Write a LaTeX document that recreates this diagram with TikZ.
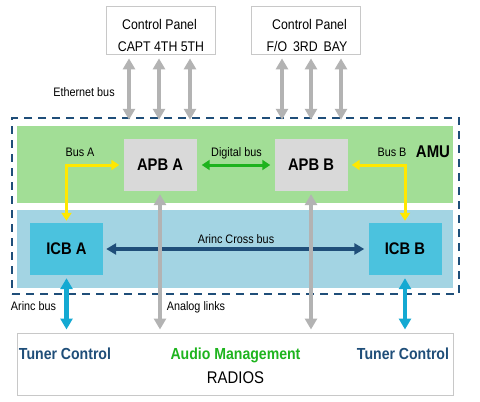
\documentclass[tikz,border=0pt]{standalone}
\usepackage{fontspec}
\setmainfont{Liberation Sans}[FakeStretch=0.88]
\usetikzlibrary{arrows.meta}
\definecolor{dashblue}{HTML}{1F4E79}
\definecolor{amugreen}{HTML}{A2DE96}
\definecolor{icbbg}{HTML}{A3D4E3}
\definecolor{icbbox}{HTML}{4BC2DE}
\definecolor{apbgray}{HTML}{D9D9D9}
\definecolor{arrgray}{HTML}{B3B3B3}
\definecolor{panelgray}{HTML}{C8C8C8}
\definecolor{busgreen}{HTML}{1DB31D}
\definecolor{busyellow}{HTML}{FFE800}
\definecolor{arinccyan}{HTML}{14A9D2}
\definecolor{textgreen}{HTML}{1EB41E}
\begin{document}
\begin{tikzpicture}[x=1pt,y=-1pt,
  lbl/.style={font=\fontsize{12.3}{14}\selectfont, inner sep=0, anchor=base},
  cpt/.style={font=\fontsize{14}{16}\selectfont, inner sep=0, anchor=base},
  unitbox/.style={font=\fontsize{16.8}{20}\selectfont\bfseries, minimum width=73pt, minimum height=52pt, inner sep=0},
  panel/.style={draw=panelgray, line width=0.8pt, fill=white, minimum width=109pt, minimum height=48pt},
  garrow/.style={draw=arrgray, line width=4.5pt, {Triangle[width=12pt,length=11pt]}-{Triangle[width=12pt,length=11pt]}},
  carrow/.style={draw=arinccyan, line width=4.5pt, {Triangle[width=12pt,length=11pt]}-{Triangle[width=12pt,length=11pt]}},
  gbus/.style={draw=busgreen, line width=3pt, {Triangle[width=10pt,length=8pt]}-{Triangle[width=10pt,length=8pt]}},
  ybus/.style={draw=busyellow, line width=3pt, {Triangle[width=10pt,length=8pt]}-{Triangle[width=10pt,length=8pt]}},
  xbus/.style={draw=dashblue, line width=3.5pt, {Triangle[width=11pt,length=10pt]}-{Triangle[width=11pt,length=10pt]}},
  bigtext/.style={font=\fontsize{16}{18}\selectfont\bfseries, inner sep=0, anchor=base}
]
\useasboundingbox (0,0) rectangle (480,402);
\fill[white] (0,0) rectangle (480,402);

% AMU frame and zones
\node[draw=dashblue, line width=2.5pt, dash pattern=on 8pt off 6pt, minimum width=447pt, minimum height=176pt, inner sep=0] (amu) at (235.5,206) {};
\node[fill=amugreen, minimum width=436pt, minimum height=77pt, inner sep=0] (grn) at (235,164.5) {};
\node[fill=icbbg, minimum width=436pt, minimum height=78pt, inner sep=0] (blu) at (235,249) {};

% control panels
\node[panel] (cp1) at (160.5,30) {};
\node[panel] (cp2) at (305.5,30) {};
\node[cpt] (cp1t) at (159.5,29.5) {Control Panel};
\node[cpt] (cp1b) at (161,51) {CAPT 4TH 5TH};
\node[cpt] (cp2t) at (309.5,29.5) {Control Panel};
\node[cpt] (cp2b) at (307,51) {F/O\hspace{2.5pt} 3RD\hspace{2.5pt} BAY};

% units
\node[unitbox, fill=apbgray] (apbA) at (160,165) {APB A};
\node[unitbox, fill=apbgray] (apbB) at (311,165) {APB B};
\node[unitbox, fill=icbbox] (icbA) at (66.5,249) {ICB A};
\node[unitbox, fill=icbbox] (icbB) at (405,249) {ICB B};

% radios
\node[draw=panelgray, line width=1pt, fill=white, minimum width=436pt, minimum height=62pt, inner sep=0] (radios) at (235,364) {};
\node[bigtext, text=dashblue] (tc1) at (65,359) {Tuner Control};
\node[bigtext, text=dashblue] (tc2) at (403,359) {Tuner Control};
\node[bigtext, text=textgreen] (am) at (235.5,359) {Audio Management};
\node[font=\fontsize{16.9}{18}\selectfont, inner sep=0, anchor=base] (rad) at (235.5,383) {RADIOS};

% ethernet arrows
\foreach \dx [count=\i] in {-31.5,-1.5,29.5}
  \draw[garrow, shorten <=4pt, shorten >=-3pt] ([xshift=\dx pt]cp1.south) -- ([xshift=\dx pt]cp1.south |- amu.north);
\foreach \dx [count=\i] in {-23.5,5.5,35.5}
  \draw[garrow, shorten <=4pt, shorten >=-3pt] ([xshift=\dx pt]cp2.south) -- ([xshift=\dx pt]cp2.south |- amu.north);

% buses
\draw[gbus, shorten <=5pt, shorten >=4pt] (apbA.east) -- (apbB.west);
\draw[ybus, shorten <=2pt, shorten >=4pt] (icbA.north) |- (apbA.west);
\draw[ybus, shorten <=2pt, shorten >=4pt] (icbB.north) |- (apbB.east);
\draw[xbus, shorten <=3pt, shorten >=4pt] (icbA.east) -- (icbB.west);
\draw[garrow, shorten <=3pt, shorten >=3pt] (apbA.south) -- (apbA.south |- radios.north);
\draw[garrow, shorten <=3pt, shorten >=3pt] (apbB.south) -- (apbB.south |- radios.north);
\draw[carrow, shorten <=3pt, shorten >=3pt] (icbA.south) -- (icbA.south |- radios.north);
\draw[carrow, shorten <=3pt, shorten >=3pt] (icbB.south) -- (icbB.south |- radios.north);

% labels
\node[lbl] (leth) at (84,96) {Ethernet bus};
\node[lbl] (lba) at (80,156) {Bus A};
\node[lbl] (ldb) at (236.5,156) {Digital bus};
\node[lbl] (lbb) at (392,156) {Bus B};
\node[font=\fontsize{17}{20}\selectfont\bfseries, inner sep=0, anchor=base] (lamu) at (433,157) {AMU};
\node[lbl] (lxb) at (236,243) {Arinc Cross bus};
\node[lbl] (lab) at (33.5,310) {Arinc bus};
\node[lbl] (lal) at (196,310) {Analog links};
\end{tikzpicture}
\end{document}
